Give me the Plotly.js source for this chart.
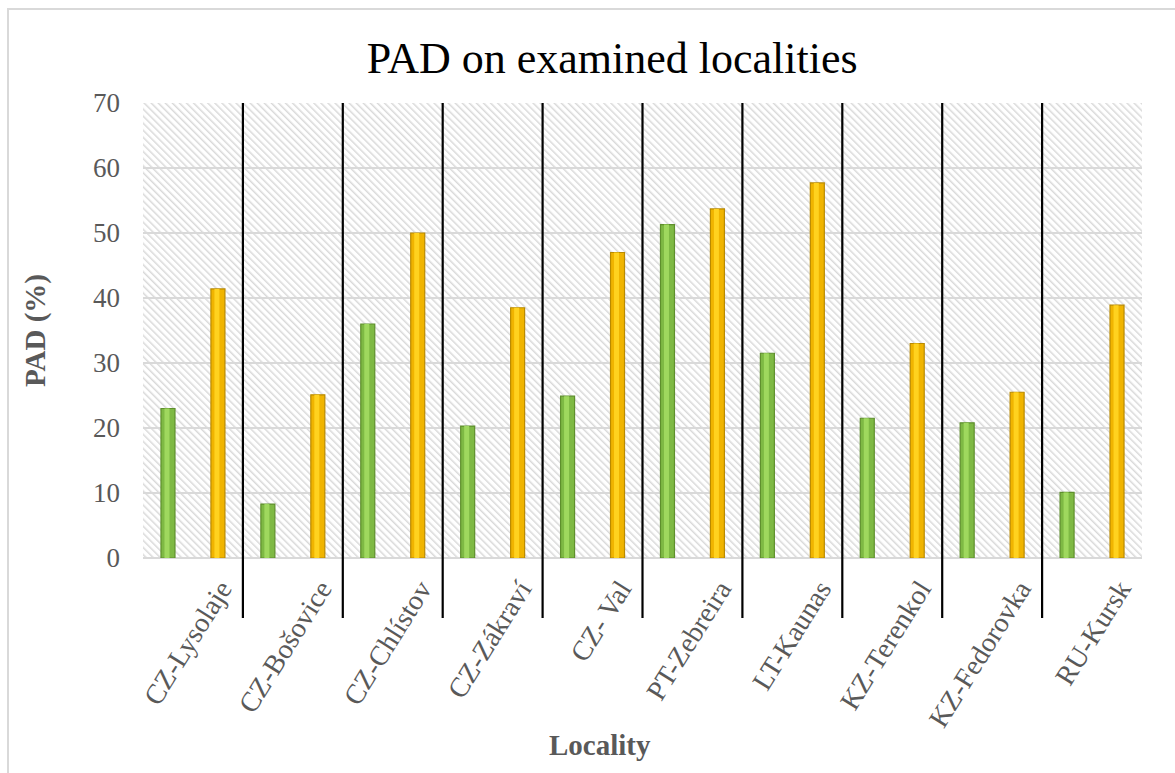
<!DOCTYPE html>
<html>
<head>
<meta charset="utf-8">
<script src="https://cdn.plot.ly/plotly-3.0.1.min.js"></script>
<style>
  html, body { margin: 0; padding: 0; overflow: hidden; background: #ffffff; }
  #chart { width: 1175px; height: 773px; }
  #frame { position: absolute; left: 7px; top: 8px; width: 1200px; height: 820px;
           border: 2px solid #d9d9d9; pointer-events: none; box-sizing: border-box; }
</style>
</head>
<body>
<div id="chart"></div>
<div id="frame"></div>
<script>
// ---- data ----
const localities = ['CZ-Lysolaje', 'CZ-Bošovice', 'CZ-Chlístov', 'CZ-Zákraví', 'CZ- Val',
                    'PT-Zebreira', 'LT-Kaunas', 'KZ-Terenkol', 'KZ-Fedorovka', 'RU-Kursk'];
const greenSeries  = [23.0, 8.3, 36.0, 20.3, 24.9, 51.3, 31.5, 21.5, 20.8, 10.1];
const yellowSeries = [41.4, 25.1, 50.0, 38.5, 47.0, 53.7, 57.7, 33.0, 25.5, 38.9];
const yTicks = [0, 10, 20, 30, 40, 50, 60, 70];

const FONT = 'Liberation Serif, Times New Roman, serif';
const GRAY = '#595959';

function barPair(values, name, dark, mid, light, offset) {
  return [
    { type: 'bar', x: localities, y: values, name: name, width: 0.14, offset: offset,
      marker: { color: mid, line: { color: dark, width: 1.2 } }, hoverinfo: 'x+y', showlegend: false },
    { type: 'bar', x: localities, y: values, name: name + ' hl', width: 0.05, offset: offset + 0.035,
      marker: { color: light, line: { width: 0 } }, hoverinfo: 'skip', showlegend: false }
  ];
}

const traces = [].concat(
  barPair(greenSeries, 'Series 1', '#5e8f2c', '#7eb944', '#9fd85e', -0.32),
  barPair(yellowSeries, 'Series 2', '#b98a00', '#f0b400', '#ffd21f', 0.18)
);

// separators between categories
const shapes = [];
for (let i = 0; i < localities.length - 1; i++) {
  shapes.push({ type: 'line', xref: 'x', yref: 'paper', x0: i + 0.5, x1: i + 0.5,
                y0: -0.132, y1: 1, line: { color: '#000000', width: 2.2 }, layer: 'above' });
}

// hatched background for plot area
const hatch = '<svg xmlns="http://www.w3.org/2000/svg" width="999" height="455">' +
  '<defs><pattern id="p" patternUnits="userSpaceOnUse" width="5" height="5" patternTransform="rotate(-45)">' +
  '<rect width="5" height="5" fill="#ffffff"/><line x1="0" y1="0" x2="0" y2="5" stroke="#d9d9d9" stroke-width="3"/></pattern></defs>' +
  '<rect width="999" height="455" fill="url(#p)"/></svg>';

const layout = {
  width: 1175, height: 773,
  margin: { l: 143, r: 33, t: 103, b: 215 },
  paper_bgcolor: '#ffffff', plot_bgcolor: '#ffffff',
  font: { family: FONT, color: GRAY },
  barmode: 'overlay',
  title: { text: 'PAD on examined localities', font: { family: FONT, size: 44, color: '#000000' },
           xref: 'container', x: 0.521, yref: 'container', y: 0.925, xanchor: 'center', yanchor: 'middle' },
  xaxis: {
    type: 'category', categoryorder: 'array', categoryarray: localities,
    range: [-0.5, localities.length - 0.5],
    tickangle: -58, tickfont: { family: FONT, size: 28, color: GRAY },
    ticklabelshift: 28, ticklabelstandoff: 8,
    showgrid: false, showline: false, ticks: '', zeroline: false
  },
  yaxis: {
    range: [0, 70], tickvals: yTicks, ticktext: yTicks.map(String),
    tickfont: { family: FONT, size: 27, color: GRAY },
    showgrid: true, gridcolor: '#d9d9d9', gridwidth: 2,
    zeroline: true, zerolinecolor: '#d9d9d9', zerolinewidth: 2,
    showline: false, ticks: '', ticklabelstandoff: 22,
    title: { text: '<b>PAD (%)</b>', font: { family: FONT, size: 29, color: GRAY }, standoff: 38 }
  },
  shapes: shapes,
  images: [{ source: 'data:image/svg+xml;charset=utf-8,' + encodeURIComponent(hatch),
             xref: 'paper', yref: 'paper', x: 0, y: 1, sizex: 1, sizey: 1,
             xanchor: 'left', yanchor: 'top', sizing: 'stretch', layer: 'below' }],
  annotations: [{ text: '<b>Locality</b>', xref: 'paper', yref: 'paper', x: 0.4575, y: -0.411,
                  xanchor: 'center', yanchor: 'middle', showarrow: false,
                  font: { family: FONT, size: 29, color: GRAY } }]
};

Plotly.newPlot('chart', traces, layout, { displayModeBar: false, staticPlot: true });
</script>
</body>
</html>
